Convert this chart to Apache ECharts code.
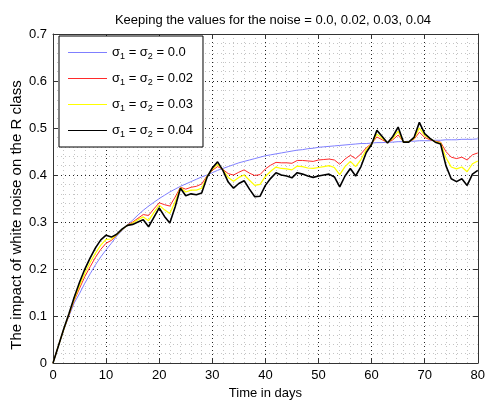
<!DOCTYPE html>
<html>
<head>
<meta charset="utf-8">
<script src="https://cdn.jsdelivr.net/npm/echarts@6/dist/echarts.min.js"></script>
<style>
  html, body { margin: 0; padding: 0; background: #fff; }
  #main { width: 488px; height: 405px; }
</style>
</head>
<body>
<div id="main"></div>
<script>
// time in days, one value per day
var days = [];
for (var d = 0; d <= 80; d++) days.push(d);

var noiseNames = ['0.0', '0.02', '0.03', '0.04'];
var xTicks = [0, 10, 20, 30, 40, 50, 60, 70, 80];
var yTicks = [0, 0.1, 0.2, 0.3, 0.4, 0.5, 0.6, 0.7];

// sigma = 0.0
var noise0 = [0, 0.036, 0.070, 0.100, 0.128, 0.148, 0.170, 0.190, 0.209, 0.226,
  0.241, 0.255, 0.270, 0.282, 0.294, 0.304, 0.315, 0.325, 0.334, 0.342,
  0.350, 0.357, 0.364, 0.370, 0.376, 0.381, 0.386, 0.391, 0.396, 0.400,
  0.405, 0.410, 0.414, 0.418, 0.422, 0.426, 0.429, 0.432, 0.435, 0.438,
  0.441, 0.443, 0.445, 0.447, 0.449, 0.451, 0.453, 0.454, 0.456, 0.457,
  0.459, 0.460, 0.461, 0.462, 0.463, 0.464, 0.465, 0.466, 0.467, 0.467,
  0.468, 0.469, 0.469, 0.470, 0.470, 0.471, 0.471, 0.472, 0.472, 0.473,
  0.473, 0.473, 0.474, 0.474, 0.475, 0.475, 0.475, 0.476, 0.476, 0.476, 0.477];

// sigma = 0.02
var noise2 = [0, 0.036, 0.071, 0.102, 0.133, 0.159, 0.184, 0.205, 0.225, 0.242,
  0.255, 0.261, 0.272, 0.283, 0.294, 0.300, 0.308, 0.316, 0.314, 0.328,
  0.341, 0.337, 0.334, 0.353, 0.374, 0.370, 0.374, 0.376, 0.381, 0.398,
  0.410, 0.418, 0.412, 0.403, 0.400, 0.406, 0.411, 0.404, 0.399, 0.401,
  0.413, 0.421, 0.427, 0.426, 0.426, 0.425, 0.431, 0.431, 0.430, 0.429,
  0.432, 0.433, 0.434, 0.432, 0.423, 0.434, 0.442, 0.435, 0.445, 0.458,
  0.467, 0.481, 0.475, 0.469, 0.475, 0.485, 0.471, 0.471, 0.476, 0.491,
  0.480, 0.475, 0.472, 0.470, 0.450, 0.438, 0.435, 0.438, 0.432, 0.443, 0.447];

// sigma = 0.03
var noise3 = [0, 0.036, 0.071, 0.104, 0.136, 0.165, 0.191, 0.214, 0.234, 0.251,
  0.263, 0.264, 0.273, 0.284, 0.293, 0.298, 0.305, 0.311, 0.303, 0.320,
  0.336, 0.326, 0.318, 0.343, 0.373, 0.364, 0.368, 0.368, 0.372, 0.397,
  0.412, 0.423, 0.411, 0.395, 0.387, 0.395, 0.400, 0.389, 0.378, 0.380,
  0.397, 0.408, 0.417, 0.414, 0.413, 0.411, 0.419, 0.418, 0.415, 0.414,
  0.416, 0.418, 0.420, 0.416, 0.401, 0.418, 0.429, 0.418, 0.433, 0.454,
  0.466, 0.487, 0.478, 0.469, 0.478, 0.493, 0.470, 0.471, 0.478, 0.500,
  0.484, 0.477, 0.471, 0.468, 0.437, 0.417, 0.413, 0.417, 0.407, 0.424, 0.430];

// sigma = 0.04
var noise4 = [0, 0.036, 0.072, 0.105, 0.140, 0.172, 0.200, 0.224, 0.245, 0.262,
  0.272, 0.268, 0.274, 0.285, 0.293, 0.295, 0.300, 0.305, 0.290, 0.310,
  0.330, 0.312, 0.298, 0.332, 0.372, 0.356, 0.360, 0.358, 0.362, 0.395,
  0.415, 0.428, 0.410, 0.385, 0.372, 0.382, 0.388, 0.370, 0.354, 0.355,
  0.378, 0.393, 0.405, 0.400, 0.398, 0.394, 0.405, 0.402, 0.398, 0.395,
  0.398, 0.400, 0.402, 0.396, 0.375, 0.398, 0.414, 0.398, 0.418, 0.448,
  0.465, 0.495, 0.482, 0.468, 0.482, 0.502, 0.470, 0.470, 0.480, 0.512,
  0.488, 0.478, 0.470, 0.466, 0.420, 0.392, 0.386, 0.392, 0.378, 0.402, 0.410];

var colors = ['#7f7fff', '#ff2a2a', '#ffff00', '#000000'];
var widths = [1, 1, 1.2, 1.6];
var seriesValues = [noise0, noise2, noise3, noise4];
var font = 'Liberation Sans';

function pairs(vals) {
    return vals.map(function (v, i) { return [days[i], v]; });
}

function axisBase(type, pos, ticks, showLabel) {
    var step = ticks[1] - ticks[0];
    return {
        type: 'value',
        position: pos,
        min: ticks[0],
        max: ticks[ticks.length - 1],
        interval: step,
        axisLine: { show: true, onZero: false, lineStyle: { color: '#333', width: 1 } },
        axisTick: { show: true, inside: true, length: 5, lineStyle: { color: '#333' } },
        minorTick: { show: false },
        axisLabel: {
            show: showLabel,
            color: '#000',
            fontFamily: font,
            fontSize: 13,
            margin: 6,
            formatter: function (v) { return type === 'y' ? String(+v.toFixed(1)) : String(v); }
        },
        splitLine: { show: false },
        minorSplitLine: { show: false }
    };
}

var xMain = axisBase('x', 'bottom', xTicks, true);
xMain.name = 'Time in days';
xMain.nameLocation = 'middle';
xMain.nameGap = 21;
xMain.nameTextStyle = { color: '#000', fontFamily: font, fontSize: 13 };
xMain.splitLine = { show: true, lineStyle: { color: '#222', type: [1, 3], width: 1 } };
xMain.minorTick = { show: false, splitNumber: 5 };
xMain.minorSplitLine = { show: true, lineStyle: { color: '#c4c4c4', type: [1, 3], width: 1 } };

var yMain = axisBase('y', 'left', yTicks, true);
yMain.splitLine = { show: true, lineStyle: { color: '#222', type: [1, 3], width: 1 } };
yMain.minorTick = { show: false, splitNumber: 5 };
yMain.minorSplitLine = { show: true, lineStyle: { color: '#c4c4c4', type: [1, 3], width: 1 } };

var series = seriesValues.map(function (vals, i) {
    return {
        name: noiseNames[i],
        type: 'line',
        data: pairs(vals),
        showSymbol: false,
        symbol: 'none',
        z: 3 + i,
        lineStyle: { color: colors[i], width: widths[i] },
        itemStyle: { color: colors[i] }
    };
});

var option = {
    animation: false,
    backgroundColor: '#fff',
    title: {
        text: 'Keeping the values for the noise = 0.0, 0.02, 0.03, 0.04',
        left: 268,
        top: 9,
        textAlign: 'center',
        textStyle: { color: '#000', fontFamily: font, fontSize: 13, fontWeight: 'normal' }
    },
    // y axis title, placed like the original (a bit below the plot middle)
    graphic: [{
        type: 'text',
        x: 17,
        y: 215,
        rotation: Math.PI / 2,
        style: {
            text: 'The impact of white noise on the R class',
            fill: '#000',
            font: '15px "Liberation Sans"',
            align: 'center',
            verticalAlign: 'middle'
        }
    }],
    grid: { left: 53, right: 5, top: 34, bottom: 32, containLabel: false },
    xAxis: [xMain, axisBase('x', 'top', xTicks, false)],
    yAxis: [yMain, axisBase('y', 'right', yTicks, false)],
    legend: {
        data: noiseNames.map(function (n, i) {
            return { name: n, icon: 'rect', itemStyle: { color: colors[i] } };
        }),
        orient: 'vertical',
        left: 59,
        top: 36,
        padding: [8, 10, 8, 9],
        itemGap: 9,
        itemWidth: 39,
        itemHeight: 1,
        backgroundColor: '#fff',
        borderColor: '#000',
        borderWidth: 1,
        borderRadius: 0,
        selectedMode: false,
        formatter: function (name) {
            return '{a|σ}{s|1}{a| = σ}{s|2}{a| = ' + name + '}';
        },
        textStyle: {
            color: '#000',
            fontFamily: font,
            fontSize: 13,
            rich: {
                a: { fontFamily: font, fontSize: 13, color: '#000', lineHeight: 16 },
                s: { fontFamily: font, fontSize: 9, color: '#000', lineHeight: 8, padding: [8, 0, 0, 0] }
            }
        }
    },
    series: series
};

var chart = echarts.init(document.getElementById('main'), null, { renderer: 'canvas' });
chart.setOption(option);
</script>
</body>
</html>
